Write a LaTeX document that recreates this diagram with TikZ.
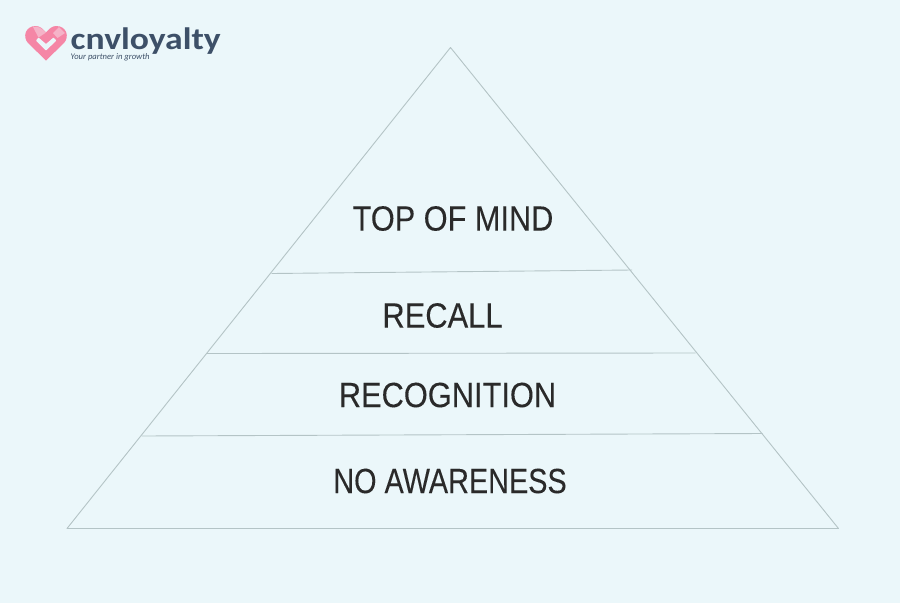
\documentclass[tikz,border=0pt]{standalone}
\usepackage{fontspec}
\setmainfont[FakeBold=0.12]{Liberation Sans}
\newfontfamily\logofont{Carlito}
\definecolor{bgc}{HTML}{EBF7FA}
\definecolor{edgec}{HTML}{B4C4C6}
\definecolor{inkc}{HTML}{2A2A2A}
\definecolor{logoc}{HTML}{3D5068}
\definecolor{heartc}{HTML}{F586A6}
\definecolor{heartl}{HTML}{F5B3C8}
\tikzset{
  edgeline/.style={draw=edgec,line width=0.9pt,line join=round},
  tierlabel/.style={text=inkc,inner sep=0pt,font=\fontsize{35}{35}\selectfont}
}
\begin{document}
\begin{tikzpicture}[x=1pt,y=-1pt]
\fill[bgc] (0,0) rectangle (900,603);
\useasboundingbox (0,0) rectangle (900,603);
% pyramid
\coordinate (apex) at (450.5,47.5);
\coordinate (bl) at (67,528.5);
\coordinate (br) at (838.5,528.5);
\coordinate (a1) at (271.5,273.5);
\coordinate (a2) at (632,270);
\coordinate (b1) at (206.5,353.5);
\coordinate (b2) at (695.5,353);
\coordinate (c1) at (141.5,436);
\coordinate (c2) at (762.5,433.5);
\draw[edgeline] (apex) -- (br) -- (bl) -- cycle;
\draw[edgeline] (a1) -- (a2);
\draw[edgeline] (b1) -- (b2);
\draw[edgeline] (c1) -- (c2);
% labels
\node[tierlabel,xscale=0.877] (top) at (453,218.5) {TOP OF MIND};
\node[tierlabel,xscale=0.882] (rec) at (442.5,315.5) {RECALL};
\node[tierlabel,xscale=0.88] (rcg) at (447.5,395) {RECOGNITION};
\node[tierlabel,xscale=0.824] (noa) at (450,481) {NO AWARENESS};
% logo heart
\fill[heartc] (46,60.5) -- (28,43) .. controls (22.5,37) and (25,26) .. (36,26)
  .. controls (40,26) and (43,29) .. (46,32.5) .. controls (49,29) and (52,26) .. (56,26)
  .. controls (67,26) and (69.5,37) .. (64,43) -- cycle;
\fill[heartl] (33,27) .. controls (38,25.5) and (42,28.5) .. (46,32.5) -- (38.5,37.5) -- cycle;
\fill[heartl] (59,27) -- (65,33) -- (57.5,38) -- (53,33) -- cycle;
\fill[bgc,rounded corners=0.7pt] (36,40.5) -- (38.5,37.5) -- (46,44) -- (53.5,37.5) -- (56.5,40.5) -- (46,50.5) -- cycle;
\node[anchor=base west,inner sep=0pt,text=logoc,font=\logofont\fontsize{31}{31}\selectfont\bfseries,xscale=1.15] (logo) at (70.5,49.5) {cnvloyalty};
\node[anchor=base west,inner sep=0pt,text=logoc,font=\logofont\fontsize{8.6}{9}\selectfont\itshape] (tag) at (70.5,59.5) {Your partner in growth};
\end{tikzpicture}
\end{document}
